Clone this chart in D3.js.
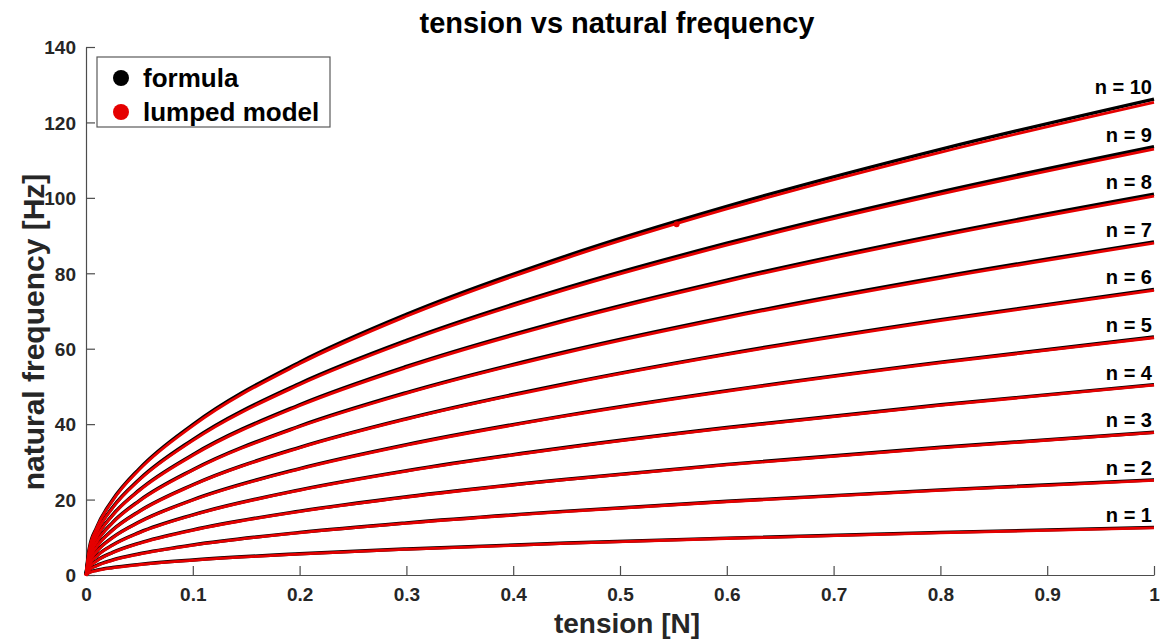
<!DOCTYPE html>
<html>
<head>
<meta charset="utf-8">
<script src="https://cdn.jsdelivr.net/npm/d3@7"></script>
<style>
  body { margin: 0; background: #fff; }
  text { font-family: Arial, "Liberation Sans", Helvetica, sans-serif; font-weight: bold; }
</style>
</head>
<body>
<div id="chart"></div>
<script>
const FRAME_WIDTH = 1161;
const FRAME_HEIGHT = 642;
const MARGINS = { left: 86, right: 7, top: 47, bottom: 67 };

// tension samples [N]
const tension = [0, 0.003, 0.01, 0.025, 0.05, 0.1, 0.2, 0.3, 0.45, 0.6, 0.8, 1];

// mode numbers
const modes = [1, 2, 3, 4, 5, 6, 7, 8, 9, 10];

// formula natural frequency [Hz], one row per mode
const formulaFreq = [
  [0, 0.69, 1.26, 2.00, 2.82, 3.99, 5.64, 6.91, 8.47, 9.78, 11.29, 12.62],
  [0, 1.38, 2.52, 3.99, 5.64, 7.98, 11.29, 13.82, 16.93, 19.55, 22.57, 25.24],
  [0, 2.07, 3.79, 5.99, 8.47, 11.97, 16.93, 20.74, 25.40, 29.33, 33.86, 37.86],
  [0, 2.77, 5.05, 7.98, 11.29, 15.96, 22.57, 27.65, 33.86, 39.10, 45.15, 50.48],
  [0, 3.46, 6.31, 9.98, 14.11, 19.95, 28.22, 34.56, 42.33, 48.88, 56.44, 63.10],
  [0, 4.15, 7.57, 11.97, 16.93, 23.94, 33.86, 41.47, 50.79, 58.65, 67.72, 75.72],
  [0, 4.84, 8.83, 13.97, 19.75, 27.93, 39.51, 48.38, 59.26, 68.43, 79.01, 88.34],
  [0, 5.53, 10.10, 15.96, 22.57, 31.92, 45.15, 55.30, 67.72, 78.20, 90.30, 100.96],
  [0, 6.22, 11.36, 17.96, 25.40, 35.91, 50.79, 62.21, 76.19, 87.98, 101.59, 113.58],
  [0, 6.92, 12.62, 19.95, 28.22, 39.90, 56.44, 69.12, 84.65, 97.75, 112.87, 126.20]
];

// lumped model natural frequency [Hz], one row per mode
const lumpedFreq = [
  [0, 0.69, 1.26, 2.00, 2.82, 3.99, 5.64, 6.91, 8.47, 9.78, 11.29, 12.62],
  [0, 1.38, 2.52, 3.99, 5.64, 7.97, 11.28, 13.81, 16.92, 19.53, 22.55, 25.22],
  [0, 2.07, 3.78, 5.98, 8.46, 11.96, 16.91, 20.72, 25.38, 29.30, 33.83, 37.83],
  [0, 2.77, 5.04, 7.97, 11.28, 15.94, 22.55, 27.62, 33.83, 39.06, 45.10, 50.43],
  [0, 3.45, 6.30, 9.97, 14.09, 19.92, 28.18, 34.51, 42.27, 48.81, 56.36, 63.01],
  [0, 4.14, 7.55, 11.94, 16.89, 23.89, 33.79, 41.38, 50.68, 58.52, 67.57, 75.55],
  [0, 4.83, 8.80, 13.93, 19.69, 27.85, 39.40, 48.24, 59.09, 68.23, 78.78, 88.08],
  [0, 5.51, 10.06, 15.90, 22.48, 31.80, 44.98, 55.09, 67.46, 77.90, 89.96, 100.58],
  [0, 6.19, 11.30, 17.87, 25.28, 35.73, 50.54, 61.91, 75.82, 87.55, 101.09, 113.02],
  [0, 6.88, 12.54, 19.83, 28.05, 39.66, 56.10, 68.71, 84.14, 97.16, 112.19, 125.44]
];

// stray lumped model marker on the n = 10 curve
const strayPoint = [{ t: 0.553, f: 93.0 }];

const xTicks = [0, 0.1, 0.2, 0.3, 0.4, 0.5, 0.6, 0.7, 0.8, 0.9, 1];
const yTicks = [0, 20, 40, 60, 80, 100, 120, 140];

const legendItems = [
  { label: "formula", color: "#000000" },
  { label: "lumped model", color: "#e50000" }
];

let plot_width = FRAME_WIDTH - MARGINS.left - MARGINS.right;
let plot_height = FRAME_HEIGHT - MARGINS.top - MARGINS.bottom;

let svg = d3.select("#chart").append("svg")
  .attr("width", FRAME_WIDTH)
  .attr("height", FRAME_HEIGHT);

let g = svg.append("g")
  .attr("transform", "translate(" + MARGINS.left + "," + MARGINS.top + ")");

let x = d3.scaleLinear().domain([0, 1]).range([0, plot_width]);
let y = d3.scaleLinear().domain([0, 140]).range([plot_height, 0]);

// axes, ticks pointing inwards like matlab
let xAxis = g.append("g")
  .attr("transform", "translate(0," + plot_height + ")")
  .call(d3.axisBottom(x).tickValues(xTicks).tickSizeInner(-9).tickSizeOuter(0)
    .tickPadding(13).tickFormat(d3.format("")));

let yAxis = g.append("g")
  .call(d3.axisLeft(y).tickValues(yTicks).tickSizeInner(-9).tickSizeOuter(0)
    .tickPadding(10));

[xAxis, yAxis].forEach(function(ax) {
  ax.select(".domain").attr("stroke", "#4d4d4d").attr("stroke-width", 1.2);
  ax.selectAll(".tick line").attr("stroke", "#4d4d4d").attr("stroke-width", 1.2);
  ax.selectAll(".tick text")
    .attr("fill", "#262626")
    .style("font-size", "19px")
    .style("font-weight", "bold")
    .style("font-family", "Arial, 'Liberation Sans', sans-serif");
});
yAxis.selectAll(".tick text").attr("dy", "0.36em");

let line = d3.line()
  .x(function(d) { return x(d[0]); })
  .y(function(d) { return y(d[1]); })
  .curve(d3.curveMonotoneX);

// formula curves
g.selectAll(".formula")
  .data(formulaFreq)
  .enter()
  .append("path")
  .attr("class", "formula")
  .attr("fill", "none")
  .attr("stroke", "#000")
  .attr("stroke-width", 3.4)
  .attr("d", function(row) { return line(row.map(function(f, i) { return [tension[i], f]; })); });

// lumped model curves
g.selectAll(".lumped")
  .data(lumpedFreq)
  .enter()
  .append("path")
  .attr("class", "lumped")
  .attr("fill", "none")
  .attr("stroke", "#e50000")
  .attr("stroke-width", 2.8)
  .attr("transform", "translate(0,0.4)")
  .attr("d", function(row) { return line(row.map(function(f, i) { return [tension[i], f]; })); });

g.selectAll(".stray")
  .data(strayPoint)
  .enter()
  .append("circle")
  .attr("cx", function(d) { return x(d.t); })
  .attr("cy", function(d) { return y(d.f); })
  .attr("r", 3)
  .attr("fill", "#e50000");

// mode labels
g.selectAll(".modeLabel")
  .data(modes)
  .enter()
  .append("text")
  .attr("class", "modeLabel")
  .attr("x", x(1) - 2)
  .attr("y", function(n, i) { return y(formulaFreq[i][tension.length - 1]) - 5; })
  .attr("text-anchor", "end")
  .style("font-size", "20px")
  .attr("fill", "#000")
  .text(function(n) { return "n = " + n; });

// title and axis labels
svg.append("text")
  .attr("x", MARGINS.left + plot_width / 2 - 3)
  .attr("y", 33)
  .attr("text-anchor", "middle")
  .style("font-size", "29px")
  .text("tension vs natural frequency");

svg.append("text")
  .attr("x", MARGINS.left + plot_width / 2 + 7)
  .attr("y", 633)
  .attr("text-anchor", "middle")
  .style("font-size", "28px")
  .attr("fill", "#262626")
  .text("tension [N]");

svg.append("text")
  .attr("transform", "translate(44," + 332 + ") rotate(-90)")
  .attr("text-anchor", "middle")
  .style("font-size", "30px")
  .attr("fill", "#262626")
  .text("natural frequency [Hz]");

// legend
let legend = svg.append("g").attr("transform", "translate(97,57)");

legend.append("rect")
  .attr("width", 233)
  .attr("height", 70)
  .attr("fill", "#fff")
  .attr("stroke", "#5a5a5a")
  .attr("stroke-width", 1.2);

let item = legend.selectAll(".item")
  .data(legendItems)
  .enter()
  .append("g")
  .attr("transform", function(d, i) { return "translate(0," + (21 + i * 34) + ")"; });

item.append("circle")
  .attr("cx", 24)
  .attr("cy", 0)
  .attr("r", 8)
  .attr("fill", function(d) { return d.color; });

item.append("text")
  .attr("x", 46)
  .attr("y", 9)
  .style("font-size", "26px")
  .attr("fill", "#000")
  .text(function(d) { return d.label; });
</script>
</body>
</html>
